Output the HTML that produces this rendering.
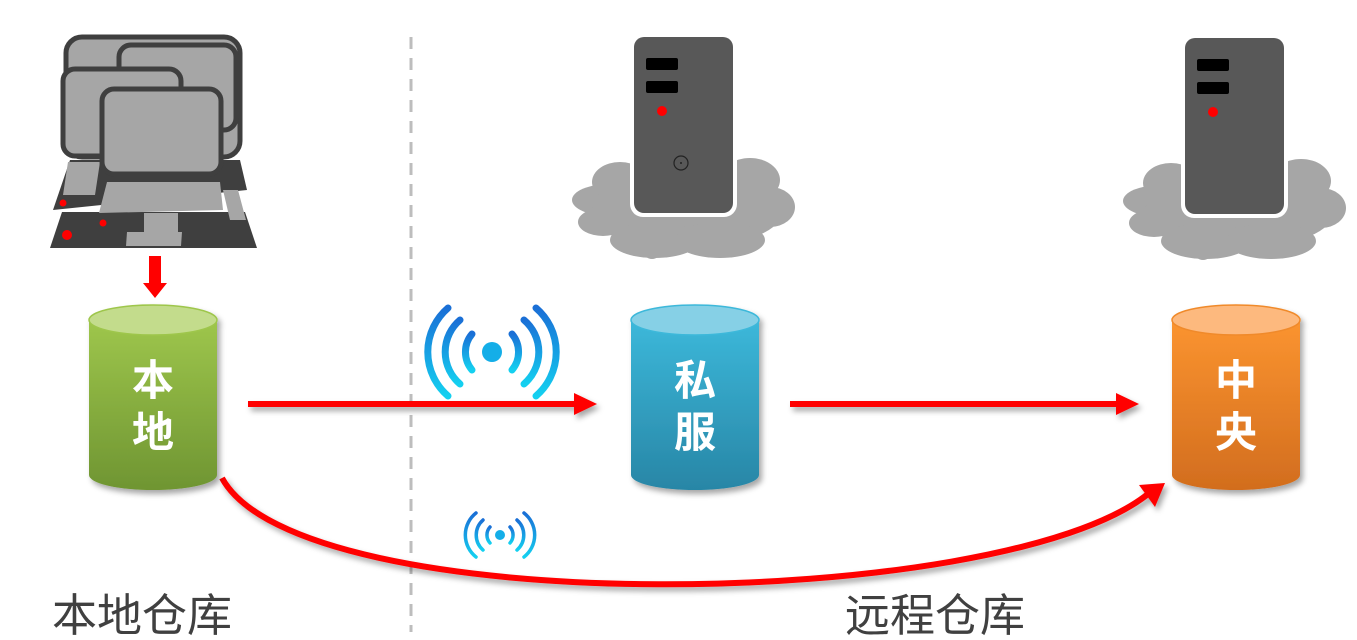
<!DOCTYPE html>
<html><head><meta charset="utf-8"><style>
html,body{margin:0;padding:0;background:#fff;}
svg{display:block;}
text{font-family:"Liberation Sans","Noto Sans CJK SC",sans-serif;}
</style></head><body>
<svg width="1357" height="640" viewBox="0 0 1357 640" xmlns="http://www.w3.org/2000/svg">
<defs>
<linearGradient id="gG" x1="0" y1="0" x2="0" y2="1"><stop offset="0" stop-color="#9ec64c"/><stop offset="1" stop-color="#6f9532"/></linearGradient>
<linearGradient id="gB" x1="0" y1="0" x2="0" y2="1"><stop offset="0" stop-color="#3cb8da"/><stop offset="1" stop-color="#2886a6"/></linearGradient>
<linearGradient id="gO" x1="0" y1="0" x2="0" y2="1"><stop offset="0" stop-color="#fb9430"/><stop offset="1" stop-color="#d26d1e"/></linearGradient>
<linearGradient id="wf" x1="0" y1="0" x2="0" y2="1"><stop offset="0" stop-color="#1a6fd6"/><stop offset="1" stop-color="#14d0f0"/></linearGradient>
<filter id="sh" x="-10%" y="-10%" width="130%" height="140%"><feDropShadow dx="3" dy="4" stdDeviation="3" flood-color="#000" flood-opacity="0.35"/></filter>
<g id="server">
 <g fill="#a6a6a6">
  <ellipse cx="610" cy="200" rx="38" ry="16"/>
  <ellipse cx="620" cy="182" rx="28" ry="20"/>
  <ellipse cx="685" cy="215" rx="95" ry="32"/>
  <ellipse cx="750" cy="180" rx="30" ry="22"/>
  <ellipse cx="770" cy="207" rx="25" ry="20"/>
  <ellipse cx="655" cy="240" rx="45" ry="18"/>
  <ellipse cx="720" cy="240" rx="45" ry="18"/>
  <ellipse cx="603" cy="222" rx="25" ry="14"/>
  <circle cx="652" cy="250" r="9"/>
 </g>
 <rect x="630" y="34" width="107" height="183" rx="13" fill="#fff"/>
 <rect x="634" y="37" width="99" height="176" rx="10" fill="#585858"/>
 <rect x="646" y="58" width="32" height="12" rx="2" fill="#000"/>
 <rect x="646" y="81" width="32" height="12" rx="2" fill="#000"/>
 <circle cx="662" cy="111" r="5" fill="red"/>
</g>
</defs>

<line x1="411" y1="37" x2="411" y2="632" stroke="#bdbdbd" stroke-width="3" stroke-dasharray="12,9"/>

<g stroke="#3f3f3f" stroke-width="5" fill="#a6a6a6">
 <polygon points="70,160 240,160 247,190 53,210" fill="#3f3f3f" stroke="none"/>
 <polygon points="62,212 245,212 257,248 50,248" fill="#3f3f3f" stroke="none"/>
 <polygon points="68,162 100,162 95,195 63,195" fill="#a6a6a6" stroke="none"/>
 <polygon points="223,190 238,190 246,220 230,220" fill="#a6a6a6" stroke="none"/>
 <polygon points="107,182 220,182 223,210 99,213" fill="#a6a6a6" stroke="none"/>
 <polygon points="144,213 178,213 178,232 144,232" fill="#a6a6a6" stroke="none"/>
 <polygon points="127,232 182,232 181,246 126,246" fill="#a6a6a6" stroke="none"/>
 <rect x="66" y="37" width="174" height="120" rx="16"/>
 <rect x="119" y="45" width="117" height="85" rx="12"/>
 <rect x="63" y="69" width="118" height="87" rx="12"/>
 <rect x="102" y="89" width="119" height="85" rx="12"/>
</g>
<circle cx="63" cy="203" r="3.5" fill="red"/>
<circle cx="103" cy="223" r="3.5" fill="red"/>
<circle cx="67" cy="235" r="5" fill="red"/>
<polygon points="149,256 161,256 161,283 167,283 155,298 143,283 149,283" fill="red"/>

<use href="#server"/>
<circle cx="681" cy="163" r="7" fill="none" stroke="#222" stroke-width="1.2"/>
<circle cx="681" cy="163" r="1" fill="#222"/>
<use href="#server" transform="translate(551,1)"/>

<g filter="url(#sh)">
<line x1="248" y1="404" x2="578" y2="404" stroke="red" stroke-width="6"/>
<polygon points="574,393 597,404 574,415" fill="red"/>
<line x1="790" y1="404" x2="1120" y2="404" stroke="red" stroke-width="6"/>
<polygon points="1116,393 1139,404 1116,415" fill="red"/>
<path d="M222,478 C300,622 1000,612 1148,494" fill="none" stroke="red" stroke-width="6"/>
<polygon points="1165,483 1155,507 1139,485" fill="red"/>
</g>

<g filter="url(#sh)">
 <path d="M89,320 V475 A64,15 0 0 0 217,475 V320z" fill="url(#gG)"/>
 <ellipse cx="153" cy="320" rx="64" ry="15" fill="#c3dc8c" stroke="#9ec64c" stroke-width="1.5"/>
 <path d="M631,320 V475 A64,15 0 0 0 759,475 V320z" fill="url(#gB)"/>
 <ellipse cx="695" cy="320" rx="64" ry="15" fill="#86d0e6" stroke="#3cb8da" stroke-width="1.5"/>
 <path d="M1172,320 V475 A64,15 0 0 0 1300,475 V320z" fill="url(#gO)"/>
 <ellipse cx="1236" cy="320" rx="64" ry="15" fill="#fdb97e" stroke="#f08a2c" stroke-width="1.5"/>
</g>
<g fill="#fff" font-size="42" font-weight="bold" text-anchor="middle">
 <text x="153" y="395">本</text><text x="153" y="447">地</text>
 <text x="695" y="395">私</text><text x="695" y="447">服</text>
 <text x="1236" y="395">中</text><text x="1236" y="447">央</text>
</g>

<g fill="none" stroke="url(#wf)" stroke-linecap="round" stroke-width="7">
  <path d="M472,334 A28,28 0 0 0 472,370"/><path d="M512,334 A28,28 0 0 1 512,370"/>
  <path d="M460,320 A42,42 0 0 0 460,384"/><path d="M524,320 A42,42 0 0 1 524,384"/>
  <path d="M448,308 A58,58 0 0 0 448,396"/><path d="M536,308 A58,58 0 0 1 536,396"/>
</g>
<circle cx="492" cy="352" r="10" fill="#14aee8"/>
<g fill="none" stroke="url(#wf)" stroke-linecap="round" stroke-width="3.5">
 <path d="M490,527 A12,12 0 0 0 490,543"/><path d="M510,527 A12,12 0 0 1 510,543"/>
 <path d="M483,520 A20,20 0 0 0 483,550"/><path d="M517,520 A20,20 0 0 1 517,550"/>
 <path d="M476,513 A28,28 0 0 0 476,557"/><path d="M524,513 A28,28 0 0 1 524,557"/>
</g>
<circle cx="500" cy="535" r="5" fill="#14aee8"/>

<g fill="#404040" font-size="45">
 <text x="52" y="631">本地仓库</text>
 <text x="845" y="631">远程仓库</text>
</g>
</svg>
</body></html>
